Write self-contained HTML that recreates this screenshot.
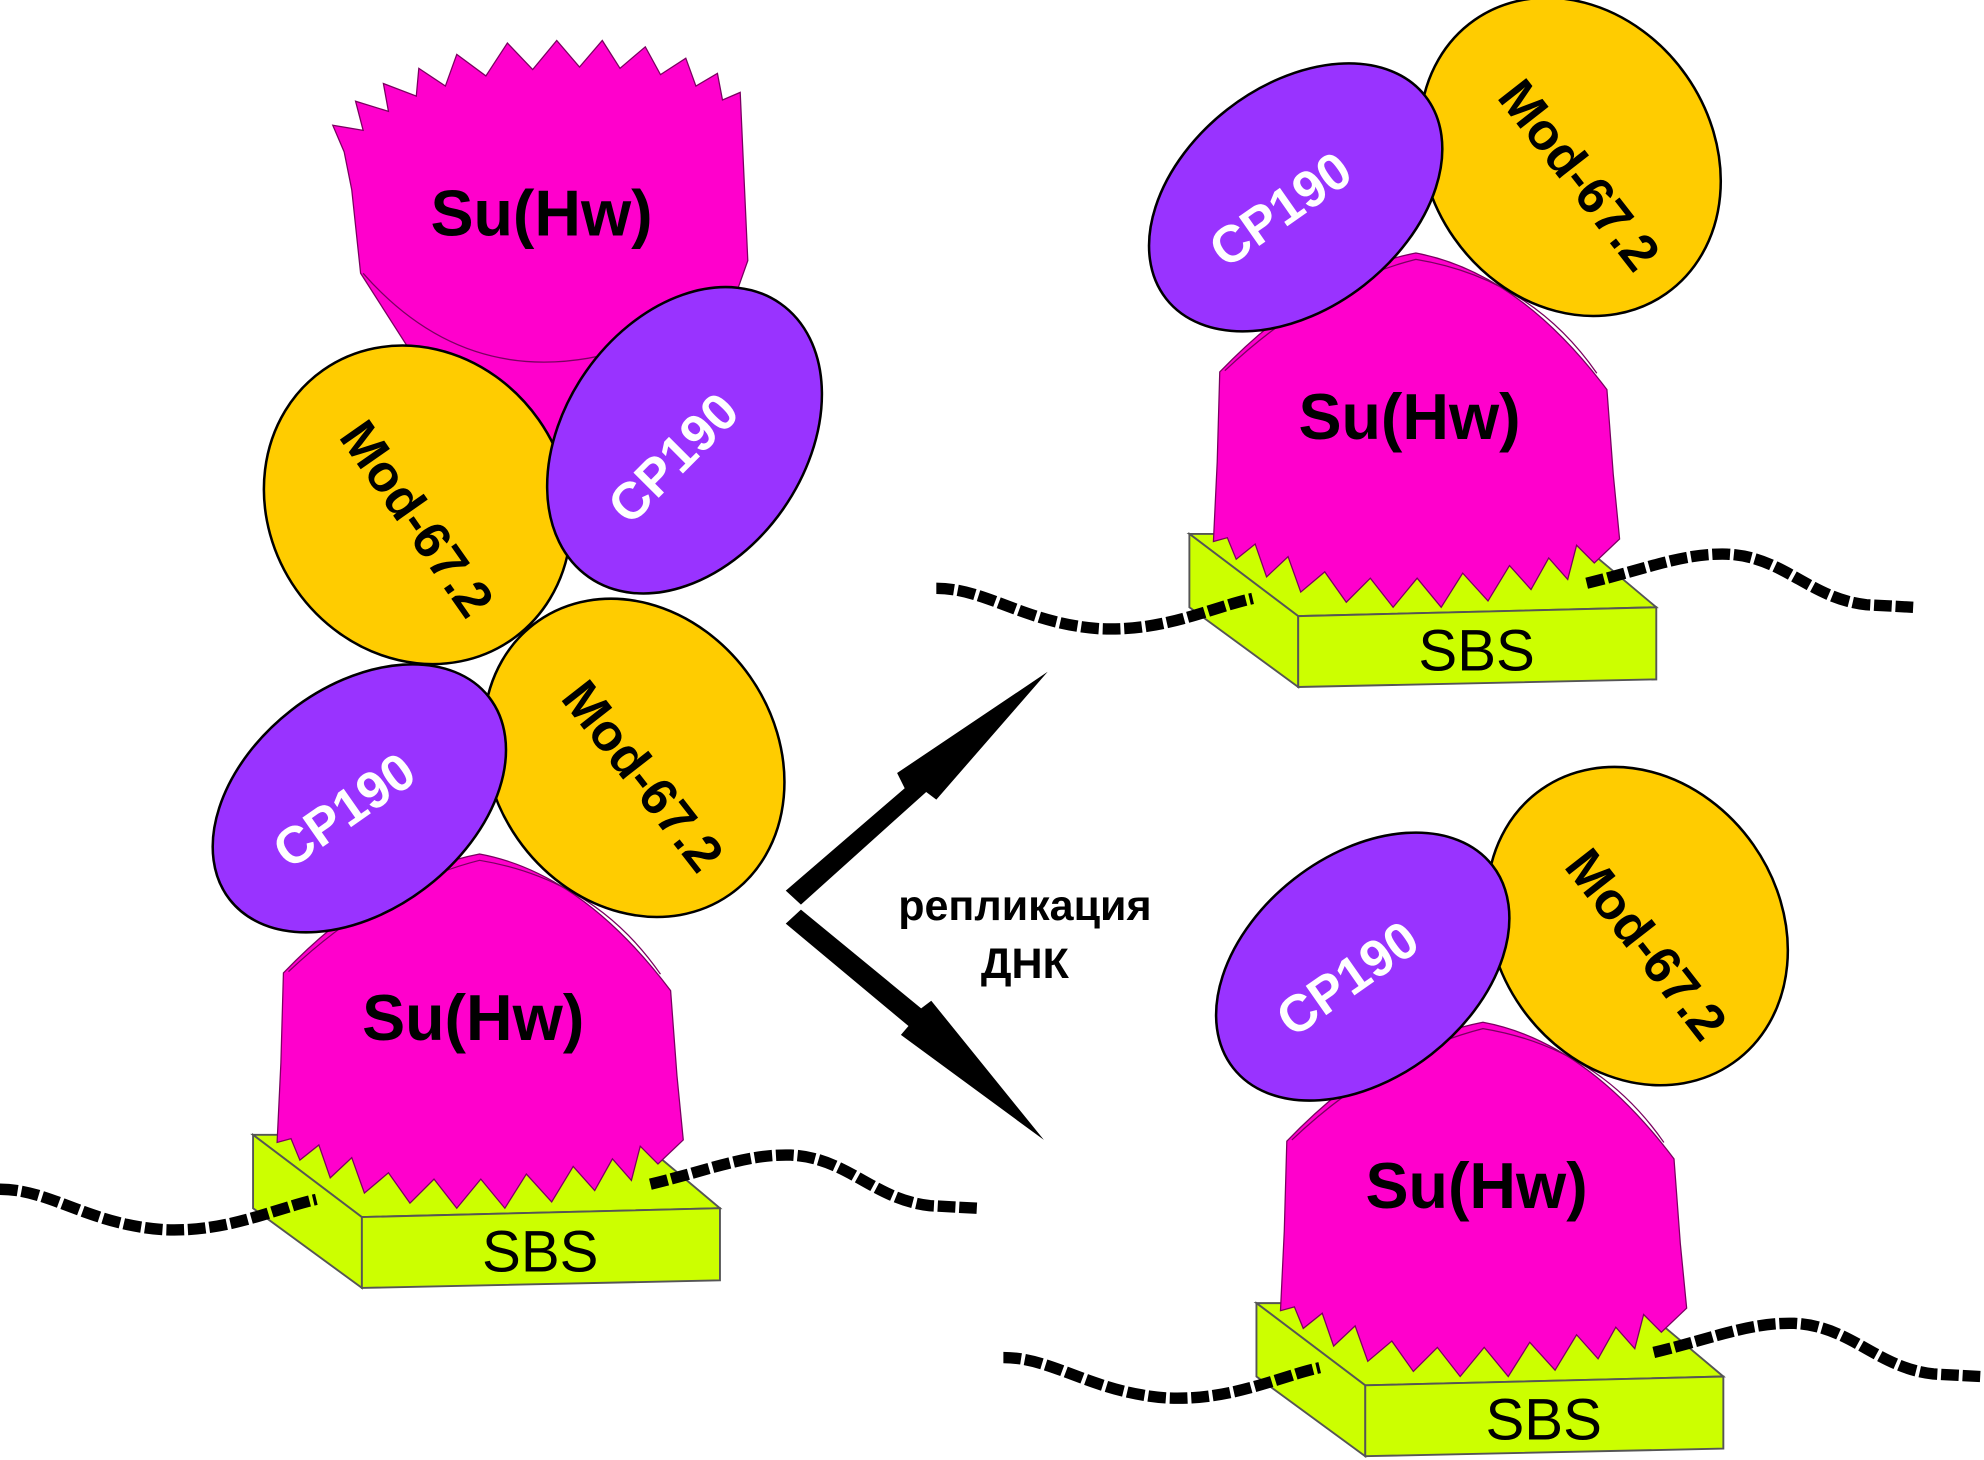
<!DOCTYPE html>
<html><head><meta charset="utf-8"><style>html,body{margin:0;padding:0;background:#fff}svg{display:block}</style></head>
<body>
<svg width="1984" height="1460" viewBox="0 0 1568 1154" preserveAspectRatio="none" xmlns="http://www.w3.org/2000/svg" font-family="Liberation Sans, Arial, sans-serif" font-weight="bold">
<defs>
<g id="cx">
  <polygon points="200,897 500,897 569,955 286,962" fill="#ccff00" stroke="#555" stroke-width="1.5"/>
  <polygon points="200,897 286,962 286,1018 200,955" fill="#ccff00" stroke="#555" stroke-width="1.5"/>
  <polygon points="286,962 569,955 569,1012 286,1018" fill="#ccff00" stroke="#555" stroke-width="1.5"/>
  <text x="427" y="1005" font-size="46" font-weight="normal" text-anchor="middle">SBS</text>
  <path d="M224,769 Q300,690 379,675 Q460,690 530,783 L535,850 L540,901 L520,920 L506,906 L499,933 L484,916 L470,941 L453,922 L436,950 L416,928 L399,955 L380,932 L361,955 L343,932 L324,951 L307,927 L288,943 L278,915 L261,931 L252,905 L237,917 L230,900 L219,903 L222,840 Z" fill="#ff00cc" stroke="#7a0060" stroke-width="1"/>
  <path d="M228,768 Q300,700 379,680 Q470,695 522,770" fill="none" stroke="#7a0060" stroke-width="1"/>
  <text x="374" y="822" font-size="51" text-anchor="middle">Su(Hw)</text>
  <path d="M0,940 C40,940 70,968 130,972 C180,974 215,956 250,948" fill="none" stroke="#000" stroke-width="9" stroke-dasharray="14 3"/>
  <path d="M514,936 C560,925 590,912 625,913 C670,915 690,948 735,953 L772,955" fill="none" stroke="#000" stroke-width="9" stroke-dasharray="14 3"/>
  <ellipse cx="501" cy="599" rx="132" ry="112" transform="rotate(55 501 599)" fill="#ffcc00" stroke="#000" stroke-width="2"/>
  <text x="0" y="0" font-size="41" text-anchor="middle" transform="translate(497,622) rotate(52)">Mod-67.2</text>
  <ellipse cx="284" cy="631" rx="130" ry="88" transform="rotate(-38 284 631)" fill="#9933ff" stroke="#000" stroke-width="2"/>
  <text x="0" y="0" font-size="41" fill="#fff" text-anchor="middle" transform="translate(280,652) rotate(-35)">CP190</text>
</g>
</defs>

<path d="M263,99 L287,103 L281,80 L307,88 L303,66 L329,76 L331,54 L352,68 L361,43 L384,60 L401,34 L421,55 L440,32 L458,53 L476,32 L490,54 L510,37 L522,59 L542,46 L550,68 L567,58 L571,79 L585,73 L588,140 L591,206 L580,237 L520,320 L437,365 L380,335 L324,277 L285,216 L278,150 L272,120 Z" fill="#ff00cc" stroke="#7a0060" stroke-width="1"/>
<path d="M287,216 Q400,345 580,237" fill="none" stroke="#7a0060" stroke-width="1"/>
<text x="428" y="186" font-size="51" text-anchor="middle">Su(Hw)</text>

<ellipse cx="330" cy="399" rx="130" ry="117" transform="rotate(55 330 399)" fill="#ffcc00" stroke="#000" stroke-width="2"/>
<text x="0" y="0" font-size="41" text-anchor="middle" transform="translate(318,418) rotate(55)">Mod-67.2</text>
<ellipse cx="541" cy="348" rx="132" ry="95" transform="rotate(-55 541 348)" fill="#9933ff" stroke="#000" stroke-width="2"/>
<text x="0" y="0" font-size="41" fill="#fff" text-anchor="middle" transform="translate(542,372) rotate(-45)">CP190</text>

<use href="#cx"/>
<use href="#cx" transform="translate(740,-475)"/>
<use href="#cx" transform="translate(793,133)"/>

<polygon points="621,704 715,623 709,611 828,531 740,632 732,626 633,715" fill="#000"/>
<polygon points="621,730 633,719 728,797 736,791 825,901 712,818 718,811" fill="#000"/>

<text x="810" y="727" font-size="34" text-anchor="middle">репликация</text>
<text x="810" y="773" font-size="34" text-anchor="middle">ДНК</text>
</svg>
</body></html>
